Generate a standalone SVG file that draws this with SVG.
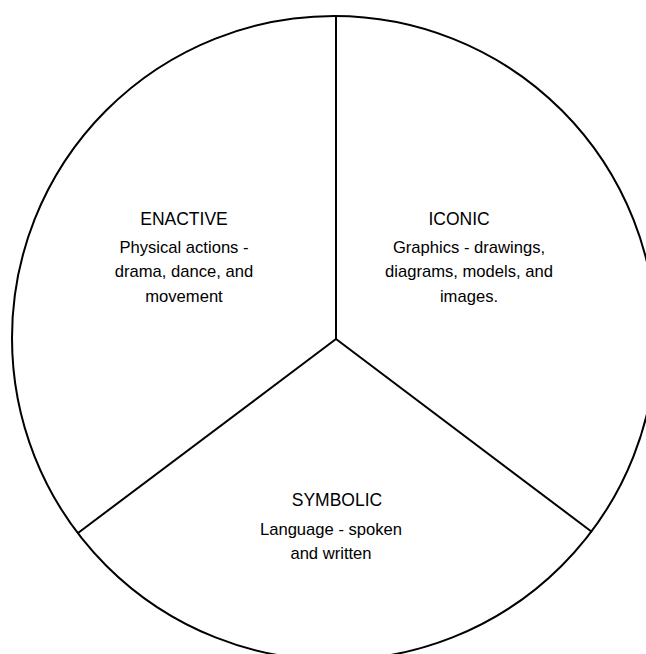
<svg xmlns="http://www.w3.org/2000/svg" width="646" height="654" viewBox="0 0 646 654">
<style>
.ring{fill:none;stroke:#000;stroke-width:2}
.div{fill:none;stroke:#000;stroke-width:2}
text{font-family:"Liberation Sans",Arial,Helvetica,sans-serif;fill:#000;text-anchor:middle}
.t{font-size:17.5px}
.b{font-size:16.6px}
</style>
<rect width="646" height="654" fill="#fff"/>
<circle class="ring" cx="334" cy="338" r="322"/>
<g id="connectors">
<line class="div" x1="336" y1="16" x2="336" y2="339"/>
<line class="div" x1="336" y1="339" x2="78" y2="533"/>
<line class="div" x1="336" y1="339" x2="592" y2="532"/>
</g>
<g id="enactive">
<text class="t" x="184" y="225">ENACTIVE</text>
<text class="b" x="184" y="253">Physical actions -</text>
<text class="b" x="184" y="277">drama, dance, and</text>
<text class="b" x="184" y="302">movement</text>
</g>
<g id="iconic">
<text class="t" x="459" y="225">ICONIC</text>
<text class="b" x="469" y="253">Graphics - drawings,</text>
<text class="b" x="469" y="277">diagrams, models, and</text>
<text class="b" x="469" y="302">images.</text>
</g>
<g id="symbolic">
<text class="t" x="337" y="506">SYMBOLIC</text>
<text class="b" x="331" y="535">Language - spoken</text>
<text class="b" x="331" y="559">and written</text>
</g>
</svg>
